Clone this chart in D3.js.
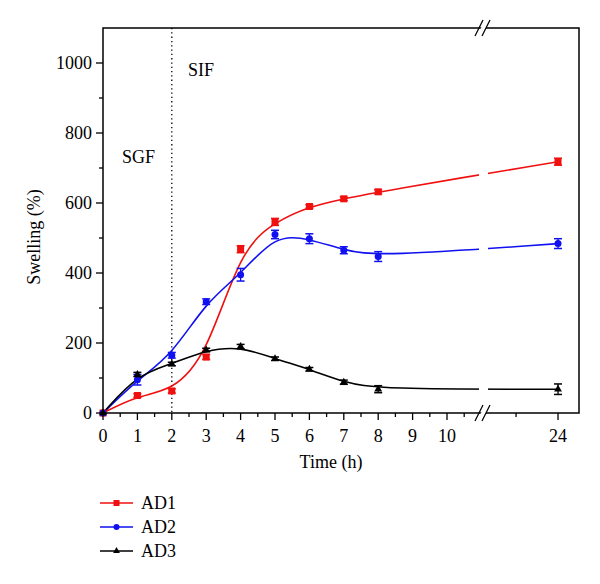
<!DOCTYPE html>
<html><head><meta charset="utf-8">
<script src="https://cdn.jsdelivr.net/npm/d3@7"></script>
<style>body{margin:0;background:#fff}</style>
</head><body>
<svg id="c" width="600" height="584"></svg>
<script>
const times = [0,1,2,3,4,5,6,7,8,24];
const ad1 = [0,50,63,160,468,546,590,612,632,718];
const ad1Err = [0,5,6,7,10,10,5,5,6,10];
const ad2 = [0,95,165,318,395,510,498,465,447,484];
const ad2Err = [0,15,8,8,18,12,14,10,14,14];
const ad3 = [0,110,140,180,190,155,125,88,68,68];
const ad3Err = [0,6,5,5,6,5,5,6,10,15];
const xMajor = [0,1,2,3,4,5,6,7,8,9,10,24];
const xMinor = [0.5,1.5,2.5,3.5,4.5,5.5,6.5,7.5,8.5,9.5,10.5,23];
const yMajor = [0,200,400,600,800,1000];
const yMinor = [100,300,500,700,900];
const seriesNames = ["AD1","AD2","AD3"];

const font = "'Liberation Serif','Times New Roman',serif";
const svg = d3.select("#c");
const L=103,R=579,T=28,B=413;
const x = d3.scaleLinear().domain([0,11,22.26,24.5]).range([L,481.4,485,R]);
const y = d3.scaleLinear().domain([0,1100]).range([B,T]);

const series = [
  {name:seriesNames[0], v:ad1, e:ad1Err, color:"#f01010", shape:"square"},
  {name:seriesNames[1], v:ad2, e:ad2Err, color:"#1010f0", shape:"circle"},
  {name:seriesNames[2], v:ad3, e:ad3Err, color:"#000000", shape:"triangle"}
];

// dotted line at 2h
svg.append("line").attr("x1",x(2)).attr("x2",x(2)).attr("y1",T).attr("y2",B)
  .attr("stroke","#000").attr("stroke-width",1.3).attr("stroke-dasharray","1.3,3");

const line = d3.line().x((d,i)=>x(times[i])).y(d=>y(d)).curve(d3.curveBasis);
series.forEach(s=>{
  svg.append("path").attr("d",line(s.v)).attr("fill","none")
    .attr("stroke",s.color).attr("stroke-width",1.6);
});
// break gap in curves
svg.append("rect").attr("x",479).attr("y",T+1).attr("width",9).attr("height",B-T-2).attr("fill","#fff");

function marker(g,shape,cx,cy,color,sz){
  if(shape==="square") g.append("rect").attr("x",cx-sz/2).attr("y",cy-sz/2).attr("width",sz).attr("height",sz).attr("fill",color);
  else if(shape==="circle") g.append("circle").attr("cx",cx).attr("cy",cy).attr("r",sz/2).attr("fill",color);
  else g.append("path").attr("d",d3.symbol(d3.symbolTriangle, sz*sz*0.55)()).attr("transform",`translate(${cx},${cy})`).attr("fill",color);
}
series.forEach(s=>{
  const g = svg.append("g");
  s.v.forEach((v,i)=>{
    const cx=x(times[i]);
    if(s.e[i]>0){
      const y1=y(v+s.e[i]), y2=y(v-s.e[i]);
      g.append("line").attr("x1",cx).attr("x2",cx).attr("y1",y1).attr("y2",y2).attr("stroke",s.color).attr("stroke-width",1.3);
      [y1,y2].forEach(yy=>g.append("line").attr("x1",cx-4).attr("x2",cx+4).attr("y1",yy).attr("y2",yy).attr("stroke",s.color).attr("stroke-width",1.5));
    }
    marker(g,s.shape,cx,y(v),s.color,7);
  });
});

// frame
svg.append("rect").attr("x",L).attr("y",T).attr("width",R-L).attr("height",B-T)
  .attr("fill","none").attr("stroke","#000").attr("stroke-width",1.5);

// y ticks
const ax = svg.append("g");
yMajor.forEach(v=>{
  ax.append("line").attr("x1",L-7).attr("x2",L).attr("y1",y(v)).attr("y2",y(v)).attr("stroke","#000").attr("stroke-width",1.3);
  ax.append("text").attr("x",L-11).attr("y",y(v)).attr("dy","0.35em").attr("text-anchor","end")
    .attr("font-family",font).attr("font-size",18).text(v);
});
yMinor.forEach(v=>{
  ax.append("line").attr("x1",L-4).attr("x2",L).attr("y1",y(v)).attr("y2",y(v)).attr("stroke","#000").attr("stroke-width",1.3);
});
xMajor.forEach(v=>{
  ax.append("line").attr("x1",x(v)).attr("x2",x(v)).attr("y1",B).attr("y2",B+7).attr("stroke","#000").attr("stroke-width",1.3);
  ax.append("text").attr("x",x(v)).attr("y",442).attr("text-anchor","middle")
    .attr("font-family",font).attr("font-size",18).text(v);
});
xMinor.forEach(v=>{
  ax.append("line").attr("x1",x(v)).attr("x2",x(v)).attr("y1",B).attr("y2",B+4).attr("stroke","#000").attr("stroke-width",1.3);
});

// break marks
[T,B].forEach(yy=>{
  svg.append("polygon").attr("points",`${477},${yy+7} ${485},${yy-7} ${490},${yy-7} ${482},${yy+7}`).attr("fill","#fff");
  [[475,yy+8,483,yy-8],[482,yy+8,490,yy-8]].forEach(p=>{
    svg.append("line").attr("x1",p[0]).attr("y1",p[1]).attr("x2",p[2]).attr("y2",p[3]).attr("stroke","#000").attr("stroke-width",1.3);
  });
});

// region labels
svg.append("text").attr("x",122).attr("y",163).attr("font-family",font).attr("font-size",18).text("SGF");
svg.append("text").attr("x",188).attr("y",76).attr("font-family",font).attr("font-size",18).text("SIF");

// axis titles
svg.append("text").attr("x",331).attr("y",468).attr("text-anchor","middle").attr("font-family",font).attr("font-size",18).text("Time (h)");
svg.append("text").attr("transform","translate(40,237) rotate(-90)").attr("text-anchor","middle").attr("font-family",font).attr("font-size",18).text("Swelling (%)");

// legend
const ly=[503,527,551];
series.forEach((s,i)=>{
  svg.append("line").attr("x1",100).attr("x2",133).attr("y1",ly[i]).attr("y2",ly[i]).attr("stroke",s.color).attr("stroke-width",1.6);
  marker(svg,s.shape,116.5,ly[i],s.color,6);
  svg.append("text").attr("x",141).attr("y",ly[i]).attr("dy","0.35em").attr("font-family",font).attr("font-size",18).text(s.name);
});
</script>
</body></html>
